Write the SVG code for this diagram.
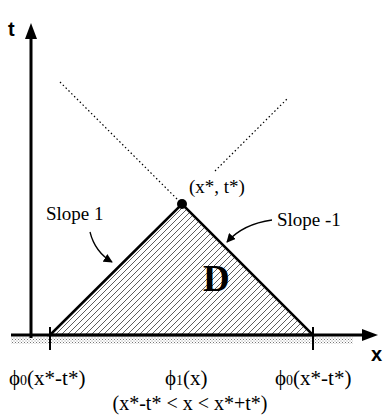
<svg xmlns="http://www.w3.org/2000/svg" width="383" height="416" viewBox="0 0 383 416">
<style>
.ser{font-family:"Liberation Serif","Times New Roman",serif;fill:#000}
.lbl{font-size:19px}
.bot{font-size:21px}
.ax{stroke:#000;stroke-width:3;fill:none}
.dot{stroke:#000;stroke-width:1.2;stroke-dasharray:1.5 2.5;fill:none}
.crv{stroke:#000;stroke-width:1.3;fill:none}
</style>
<defs>
<pattern id="hatch" patternUnits="userSpaceOnUse" width="6" height="6">
<line x1="-1" y1="7" x2="7" y2="-1" stroke="#333" stroke-width="0.8"/>
</pattern>
<pattern id="stip" patternUnits="userSpaceOnUse" width="3" height="3">
<rect width="3" height="3" fill="#fff"/>
<rect x="0" y="0" width="1" height="1" fill="#777"/>
<rect x="1.5" y="1.5" width="1" height="1" fill="#999"/>
</pattern>
<marker id="ah" viewBox="0 0 10 10" refX="9" refY="5" markerWidth="9" markerHeight="9" markerUnits="userSpaceOnUse" orient="auto">
<path d="M0,0 L10,5 L0,10 Z" fill="#000"/>
</marker>
</defs>
<g id="ground">
<rect x="11" y="337" width="342" height="7" fill="url(#stip)"/>
</g>
<g id="region-D">
<polygon points="50,335 182,204 313,335" fill="url(#hatch)" stroke="#000" stroke-width="2.5" stroke-linejoin="miter"/>
<text class="ser" x="203" y="291" font-size="37" font-weight="bold">D</text>
</g>
<g id="axes">
<line class="ax" x1="31" y1="338" x2="31" y2="38"/>
<polygon points="31,23 25,39 37,39" fill="#000"/>
<line class="ax" x1="11" y1="335" x2="364" y2="335"/>
<polygon points="378,335 362,329 362,341" fill="#000"/>
<text x="8" y="36" font-family="Liberation Sans,Arial,sans-serif" font-weight="bold" font-size="20">t</text>
<text x="371" y="361" font-family="Liberation Sans,Arial,sans-serif" font-weight="bold" font-size="20">x</text>
<line x1="50" y1="327" x2="50" y2="350" stroke="#000" stroke-width="2"/>
<line x1="313" y1="327" x2="313" y2="350" stroke="#000" stroke-width="2"/>
</g>
<g id="connectors">
<line class="dot" x1="60" y1="82" x2="182" y2="204"/>
<line class="dot" x1="215" y1="171" x2="287" y2="99"/>
<path class="crv" d="M90,232 Q95,252 112,262" marker-end="url(#ah)"/>
<path class="crv" d="M272,220 Q243,224 227,242" marker-end="url(#ah)"/>
</g>
<g id="apex">
<circle cx="182" cy="204" r="5" fill="#000"/>
<text class="ser lbl" x="189" y="193">(x*, t*)</text>
</g>
<g id="slope1"><text class="ser lbl" x="46" y="220">Slope 1</text></g>
<g id="slope-1"><text class="ser lbl" x="277" y="226">Slope -1</text></g>
<g id="bottom-labels">
<text class="ser bot" x="9" y="385">ϕ<tspan font-size="14">0</tspan>(x*-t*)</text>
<text class="ser bot" x="165" y="385">ϕ<tspan font-size="14">1</tspan>(x)</text>
<text class="ser bot" x="275" y="385">ϕ<tspan font-size="14">0</tspan>(x*-t*)</text>
<text class="ser" font-size="20" x="190" y="410" text-anchor="middle">(x*-t* &lt; x &lt; x*+t*)</text>
</g>
</svg>
